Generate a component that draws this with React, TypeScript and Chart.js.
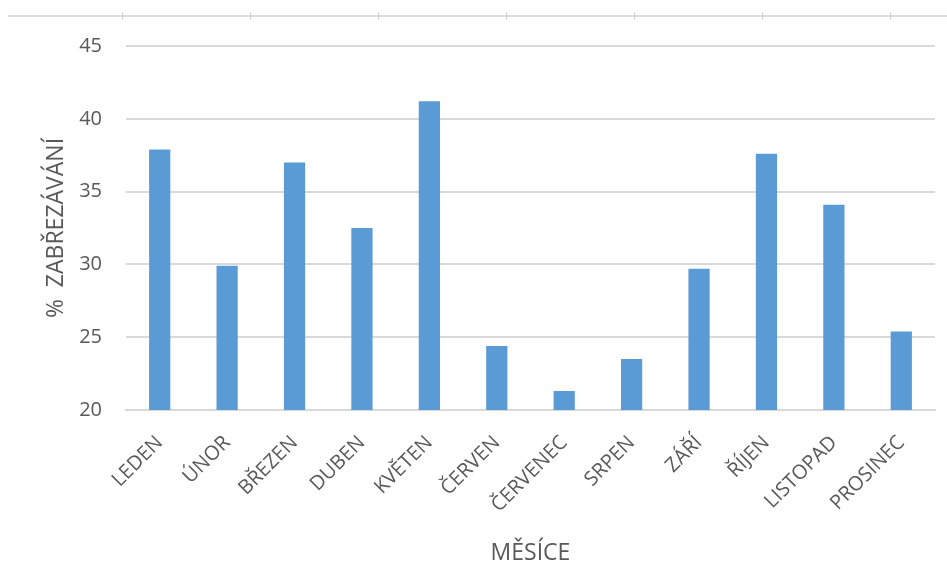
import React, { useEffect, useRef } from "react";
import { Chart, registerables, Plugin } from "chart.js";

Chart.register(...registerables);

const months = [
  "LEDEN",
  "ÚNOR",
  "BŘEZEN",
  "DUBEN",
  "KVĚTEN",
  "ČERVEN",
  "ČERVENEC",
  "SRPEN",
  "ZÁŘÍ",
  "ŘÍJEN",
  "LISTOPAD",
  "PROSINEC",
];

const trimmingShare = [37.9, 29.9, 37.0, 32.5, 41.2, 24.4, 21.3, 23.5, 29.7, 37.6, 34.1, 25.4];

const yMin = 20;
const yMax = 45;
const yStep = 5;

const FONT = "'Open Sans', 'DejaVu Sans', sans-serif";
const TEXT = "#595959";
const GRID = "#d9d9d9";
const BAR = "#5b9bd5";

// Faint rule with small notches running along the top edge of the sheet.
const topRule: Plugin<"bar"> = {
  id: "topRule",
  beforeDraw(chart) {
    const { ctx, width } = chart;
    ctx.save();
    ctx.strokeStyle = "#dcdcdc";
    ctx.lineWidth = 2;
    ctx.beginPath();
    ctx.moveTo(8, 16);
    ctx.lineTo(width, 16);
    ctx.stroke();
    ctx.lineWidth = 1;
    ctx.strokeStyle = "#d0d0d0";
    for (let x = 122; x < width; x += 128) {
      ctx.beginPath();
      ctx.moveTo(x + 0.5, 12);
      ctx.lineTo(x + 0.5, 20);
      ctx.stroke();
    }
    ctx.restore();
  },
};

export default function App() {
  const canvasRef = useRef<HTMLCanvasElement | null>(null);

  useEffect(() => {
    const canvas = canvasRef.current;
    if (!canvas) return;
    const chart = new Chart(canvas, {
      type: "bar",
      data: {
        labels: months,
        datasets: [
          {
            data: trimmingShare,
            backgroundColor: BAR,
            borderWidth: 0,
            categoryPercentage: 1,
            barPercentage: 0.315,
          },
        ],
      },
      options: {
        responsive: false,
        animation: false,
        devicePixelRatio: 1,
        layout: { padding: { top: 46, right: 12, left: 0, bottom: 0 } },
        plugins: {
          legend: { display: false },
          tooltip: { enabled: false },
        },
        scales: {
          x: {
            grid: { display: false, drawTicks: false },
            border: { display: true, color: GRID, width: 2 },
            ticks: {
              color: TEXT,
              font: { family: FONT, size: 20 },
              minRotation: 45,
              maxRotation: 45,
              padding: 21,
              autoSkip: false,
            },
            title: {
              display: true,
              text: "MĚSÍCE",
              color: TEXT,
              font: { family: FONT, size: 23 },
              padding: { top: 0, bottom: 21 },
            },
            afterFit(scale) {
              scale.height = 178;
            },
          },
          y: {
            min: yMin,
            max: yMax,
            grid: { color: GRID, lineWidth: 2, drawTicks: false },
            border: { display: false },
            ticks: {
              stepSize: yStep,
              color: TEXT,
              font: { family: FONT, size: 20 },
              padding: 24,
            },
            title: {
              display: true,
              text: "%  ZABŘEZÁVÁNÍ",
              color: TEXT,
              font: { family: FONT, size: 23 },
              padding: { top: 43, bottom: 0 },
            },
            afterFit(scale) {
              scale.width = 126;
            },
          },
        },
      },
      plugins: [topRule],
    });
    return () => chart.destroy();
  }, []);

  return (
    <div style={{ position: "absolute", left: 0, top: 0, width: 947, height: 588, background: "#fff" }}>
      <canvas ref={canvasRef} width={947} height={588} style={{ width: 947, height: 588 }} />
    </div>
  );
}
